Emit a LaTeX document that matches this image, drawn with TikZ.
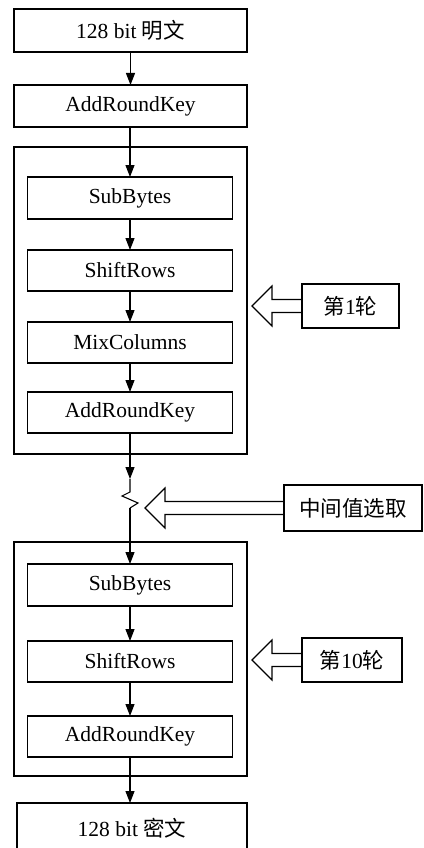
\documentclass[tikz,border=0pt]{standalone}
\usepackage{fontspec}
\setmainfont{Liberation Serif}
\newfontfamily\cjk{Noto Sans CJK SC}
\usetikzlibrary{arrows.meta,calc}
\tikzset{
  box/.style={draw, line width=1.1pt, rectangle, inner sep=0pt, outer sep=0pt,
    minimum width=#1, font=\fontsize{21.5}{25}\selectfont},
  box/.default=205,
  frame/.style={draw, line width=1.1pt, rectangle, inner sep=0pt, outer sep=0pt, minimum width=233},
  flow/.style={line width=1.1pt, -{Triangle[length=12pt,width=9pt]}},
  plain/.style={line width=1.1pt},
  hollow/.style={line width=1.1pt, line join=miter},
}
\newcommand{\hollowarrow}[2]{%
  \draw[hollow] ($(#1.west)+(0,-6.5)$) -- ++(-#2,0) -- ++(0,-13.5) -- ++(-20,20)
    -- ++(20,20) -- ++(0,-13.5) -- ($(#1.west)+(0,6.5)$);}
\begin{document}
\begin{tikzpicture}[x=1pt,y=-1pt]
\clip (0,0) rectangle (423,848);
\fill[white] (0,0) rectangle (423,848);
% frames
\node[frame, minimum height=307] (f1) at (130.5,300.5) {};
\node[frame, minimum height=234] (f2) at (130.5,659) {};
% main boxes
\node[box=233, minimum height=43] (pt) at (130.5,30.5) {128 bit {\cjk 明文}};
\node[box=233, minimum height=42] (ark0) at (130.5,106) {AddRoundKey};
\node[box, minimum height=42] (sb1) at (130,198) {SubBytes};
\node[box, minimum height=41] (sf1) at (130,270.5) {ShiftRows};
\node[box, minimum height=41] (mc1) at (130,342.5) {MixColumns};
\node[box, minimum height=41] (ak1) at (130,412.5) {AddRoundKey};
\node[box, minimum height=42] (sb2) at (130,585) {SubBytes};
\node[box, minimum height=41] (sf2) at (130,661.5) {ShiftRows};
\node[box, minimum height=41] (ak2) at (130,736.5) {AddRoundKey};
\node[box=230, minimum height=50] (ct) at (132,828) {128 bit {\cjk 密文}};
% side labels
\node[box=97, minimum height=44] (r1) at (350.5,306) {{\cjk 第}1{\cjk 轮}};
\node[box=138, minimum height=46] (mid) at (353,508) {\cjk 中间值选取};
\node[box=100, minimum height=44] (r10) at (352,660) {{\cjk 第}10{\cjk 轮}};
% flow
\draw[flow] (pt.south) -- (ark0.north);
\draw[flow] (ark0.south -| sb1.north) -- (sb1.north);
\draw[flow] (sb1.south) -- (sf1.north);
\draw[flow] (sf1.south) -- (mc1.north);
\draw[flow] (mc1.south) -- (ak1.north);
\coordinate (z0) at (130,479);
\draw[flow] (ak1.south) -- (z0);
\draw[plain, line join=miter] (z0) -- (130,492) -- (122,496) -- (138,503) -- (130,508) coordinate (z1);
\draw[flow] (z1) -- (sb2.north);
\draw[flow] (sb2.south) -- (sf2.north);
\draw[flow] (sf2.south) -- (ak2.north);
\draw[flow] (ak2.south) -- (ak2.south |- ct.north);
% hollow arrows
\hollowarrow{r1}{30}
\hollowarrow{mid}{119}
\hollowarrow{r10}{30}
\end{tikzpicture}
\end{document}
